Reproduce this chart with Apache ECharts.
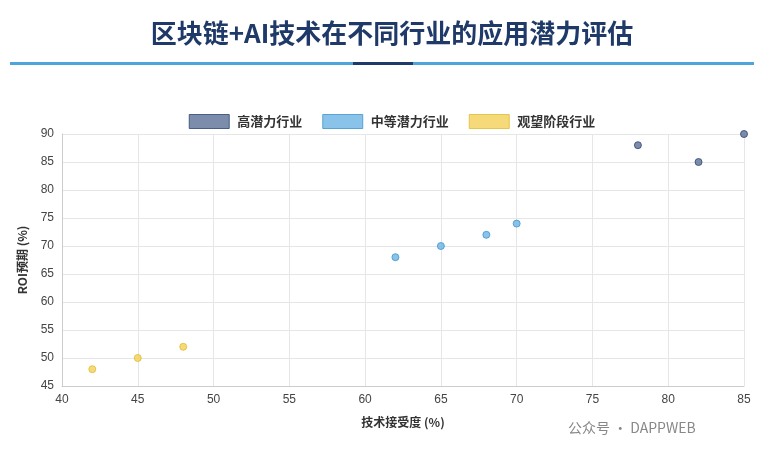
<!DOCTYPE html>
<html><head><meta charset="utf-8">
<script src="https://cdn.jsdelivr.net/npm/echarts@6/dist/echarts.min.js"></script>
<style>body{margin:0;background:#fff}#c{width:784px;height:462px}</style>
</head><body><div id="c"></div>
<script>
var seriesNames = ['高潜力行业', '中等潜力行业', '观望阶段行业'];
var highData = [[78, 88], [82, 85], [85, 90]];
var midData = [[62, 68], [65, 70], [68, 72], [70, 74]];
var lowData = [[42, 48], [45, 50], [48, 52]];
var colors = ['#5b7097', '#6cb4e4', '#f4d158'];
var borders = ['#2e4470', '#3e95cf', '#e0bb30'];

var chart = echarts.init(document.getElementById('c'));
var font = '"Noto Sans CJK SC", sans-serif';
function mk(i, data) {
  return {
    name: seriesNames[i], type: 'scatter', data: data, symbolSize: 7,
    itemStyle: {color: colors[i], borderColor: borders[i], borderWidth: 1}
  };
}
chart.setOption({
  animation: false,
  title: {
    text: '区块链+AI技术在不同行业的应用潜力评估', left: 'center', top: 15,
    textStyle: {color: '#1f3a68', fontSize: 26, fontWeight: 'bold', fontFamily: font}
  },
  graphic: [
    {type: 'rect', shape: {x: 10, y: 62, width: 744, height: 3}, style: {fill: '#4ea4de'}},
    {type: 'rect', shape: {x: 353, y: 62, width: 60, height: 3}, style: {fill: '#1f3a68'}},
    {type: 'text', left: 568, top: 421, style: {text: '公众号 · DAPPWEB', fill: '#888', font: '14px ' + font}}
  ],
  legend: {
    top: 109, left: 'center', itemWidth: 40, itemHeight: 14, itemGap: 20,
    icon: 'rect',
    data: seriesNames.map(function (n, i) {
      return {name: n, itemStyle: {color: colors[i], borderColor: borders[i], borderWidth: 1}};
    }),
    textStyle: {color: '#333', fontSize: 13, fontWeight: 'bold', fontFamily: font, padding: [0, 0, 0, 3]}
  },
  grid: {left: 62, right: 40, top: 134, bottom: 76},
  xAxis: {
    type: 'value', min: 40, max: 85, interval: 5,
    name: '技术接受度 (%)', nameLocation: 'middle', nameGap: 30,
    nameTextStyle: {color: '#333', fontSize: 12, fontWeight: 'bold', fontFamily: font},
    axisLine: {show: true, lineStyle: {color: '#ccc'}}, axisTick: {show: false},
    axisLabel: {color: '#444', fontSize: 12},
    splitLine: {lineStyle: {color: '#e6e6e6'}}
  },
  yAxis: {
    type: 'value', min: 45, max: 90, interval: 5,
    name: 'ROI预期 (%)', nameLocation: 'middle', nameGap: 34,
    nameTextStyle: {color: '#333', fontSize: 12, fontWeight: 'bold', fontFamily: font},
    axisLine: {show: true, lineStyle: {color: '#ccc'}}, axisTick: {show: false},
    axisLabel: {color: '#444', fontSize: 12},
    splitLine: {lineStyle: {color: '#e6e6e6'}}
  },
  series: [mk(0, highData), mk(1, midData), mk(2, lowData)]
});
</script></body></html>
